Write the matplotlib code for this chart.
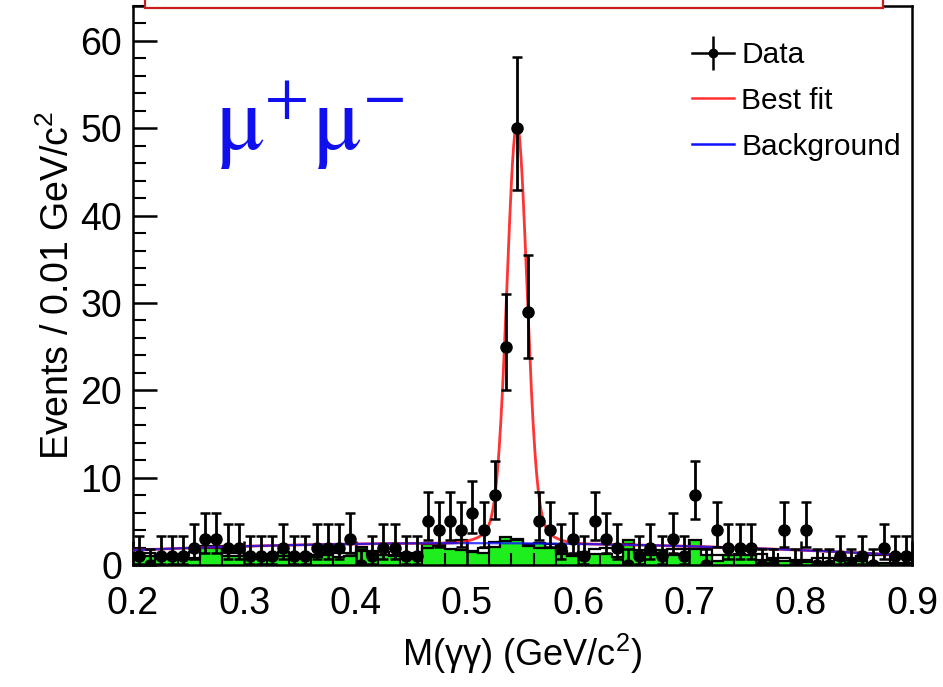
"""
eta -> gamma gamma peak in the mu+mu- channel: data, fit and background MC.
"""

import numpy as np
import matplotlib.pyplot as plt
from matplotlib.lines import Line2D
from matplotlib.patches import Rectangle

plt.rcParams.update({
    "font.family": ["Liberation Sans", "DejaVu Sans"],
    "mathtext.fontset": "custom",
    "mathtext.rm": "Liberation Sans",
    "mathtext.it": "Liberation Sans:italic",
    "axes.linewidth": 1.8,
})

# binning: 0.2 - 0.9 GeV/c^2, 0.01 wide
edges = np.round(np.arange(0.20, 0.9001, 0.01), 3)
centers = edges[:-1] + 0.005

# data counts per bin
counts = [1, 0, 1, 1, 1, 2, 3, 3, 2, 2,
          1, 1, 1, 2, 1, 1, 2, 2, 2, 3,
          0, 1, 2, 2, 1, 1, 5, 4, 5, 4,
          6, 4, 8, 25, 50, 29, 5, 4, 2, 3,
          1, 5, 3, 2, 0, 1, 2, 1, 3, 1,
          8, 0, 4, 2, 2, 2, 0, 0, 4, 0,
          4, 0, 0, 1, 0, 1, 0, 2, 1, 1]

# 68% Poisson intervals (low, high) for the counts present
poisson_err = {0: (0.0, 1.84), 1: (0.83, 2.30), 2: (1.29, 2.64),
               3: (1.63, 2.92), 4: (1.91, 3.16), 5: (2.16, 3.38),
               6: (2.38, 3.58), 8: (2.77, 3.94), 25: (4.96, 6.07),
               29: (5.35, 6.45), 50: (7.04, 8.12)}

# green filled MC histogram
mc_green = [1.4, 1.0, 0.7, 0.7, 0.7, 0.8, 2.2, 2.2, 1.0, 1.0,
            1.2, 1.2, 1.2, 1.5, 0.9, 0.9, 0.9, 1.1, 0.9, 1.0,
            2.1, 1.2, 1.2, 1.2, 1.2, 1.2, 2.4, 2.4, 1.8, 1.7,
            1.5, 1.4, 2.1, 3.2, 3.0, 2.2, 2.5, 2.0, 1.3, 1.3,
            1.5, 1.3, 1.3, 0.9, 2.9, 1.7, 1.1, 1.7, 1.1, 1.3,
            2.9, 1.1, 0.5, 1.1, 1.1, 1.1, 0.6, 0.6, 0.5, 0.5,
            0.3, 0.3, 0.3, 0.6, 0.6, 0.5, 0.2, 0.2, 0.2, 0.2]

# open (outline only) MC histogram
mc_open = [1.0, 1.4, 1.0, 1.0, 1.2, 1.5, 2.0, 2.0, 1.4, 1.4,
           1.0, 1.0, 1.0, 1.0, 1.3, 1.3, 1.2, 1.4, 1.4, 1.4,
           1.6, 1.6, 1.5, 1.0, 1.4, 1.4, 2.0, 2.2, 2.5, 2.9,
           1.6, 2.0, 2.6, 2.8, 2.9, 2.4, 2.0, 2.4, 1.6, 1.0,
           1.0, 1.8, 2.0, 2.0, 2.4, 1.4, 1.4, 1.4, 1.8, 1.8,
           1.8, 2.0, 1.2, 1.2, 1.3, 1.2, 1.3, 0.8, 0.8, 0.6,
           0.6, 0.8, 0.8, 0.8, 0.8, 1.0, 1.2, 1.2, 1.2, 1.2]

# fit parameters: quadratic background + double gaussian peak
bkg_top, bkg_x0, bkg_curv = 2.5, 0.50, -8.9
peak_mean = 0.545
peak_amp1, peak_sig1 = 45.0, 0.0088
peak_amp2, peak_sig2 = 3.0, 0.020

x_ticks = [0.2, 0.3, 0.4, 0.5, 0.6, 0.7, 0.8, 0.9]
y_ticks = [0, 10, 20, 30, 40, 50, 60]


def background(x):
    return bkg_top + bkg_curv * (x - bkg_x0) ** 2


def best_fit(x):
    g1 = peak_amp1 * np.exp(-0.5 * ((x - peak_mean) / peak_sig1) ** 2)
    g2 = peak_amp2 * np.exp(-0.5 * ((x - peak_mean) / peak_sig2) ** 2)
    return background(x) + g1 + g2


fig = plt.figure(figsize=(9.43, 6.87), dpi=100)
ax = fig.add_axes([133 / 943, 1 - 565 / 687, 779 / 943, 559 / 687])

ax.stairs(mc_green, edges, fill=True, color="#1eee1e", zorder=1)
ax.stairs(mc_green, edges, color="black", lw=1.6, zorder=2)
ax.stairs(mc_open, edges, color="black", lw=1.6, zorder=2)

xf = np.linspace(0.2, 0.9, 1401)
ax.plot(xf, best_fit(xf), color="#ff1010", lw=2.0, alpha=0.85, zorder=3)
ax.plot(xf, background(xf), color="#1010ff", lw=1.6, alpha=0.8, zorder=4)

lo = [poisson_err[n][0] for n in counts]
hi = [poisson_err[n][1] for n in counts]
ax.errorbar(centers, counts, yerr=[lo, hi], fmt="o", color="black",
            ms=8, elinewidth=2.0, capsize=3.8, capthick=1.8, zorder=5)

ax.set_xlim(0.2, 0.9)
ax.set_ylim(0, 64)
ax.set_xticks(x_ticks)
ax.set_xticklabels([f"{t:.1f}" for t in x_ticks])
ax.set_yticks(y_ticks)
ax.set_xticks(np.arange(0.2, 0.9001, 0.02), minor=True)
ax.set_yticks(np.arange(0, 64.01, 2), minor=True)
ax.tick_params(axis="both", which="both", direction="in", labelsize=27,
               top=False, right=False)
ax.tick_params(which="major", length=17, width=1.8)
ax.tick_params(which="minor", length=9, width=1.5)
ax.tick_params(axis="x", pad=15)
ax.tick_params(axis="y", pad=8)

ax.set_xlabel("M(γγ) (GeV/c$^{2}$)", fontsize=26, labelpad=7)
ax.set_ylabel("Events / 0.01 GeV/c$^{2}$", fontsize=27, labelpad=2)

fig.text(215 / 943, 1 - 150 / 687, r"$\mathrm{μ}^{+}\mathrm{μ}^{-}$",
         color="#1010ee", fontsize=66, math_fontfamily="stix",
         va="baseline", ha="left")

h_data = (Line2D([], [], color="black", lw=1.8, marker="o", ms=6),
          Line2D([], [], color="black", lw=0, marker="|", ms=24, mew=1.8))
h_fit = Line2D([], [], color="#ff3030", lw=1.8)
h_bkg = Line2D([], [], color="#1010ff", lw=1.8)
ax.legend([h_data, h_fit, h_bkg], ["Data", "Best fit", "Background"],
          loc="upper left", bbox_to_anchor=(692 / 943, 1 - 41 / 687),
          bbox_transform=fig.transFigure, frameon=False, fontsize=21.5,
          handlelength=1.4, handletextpad=0.25, labelspacing=0.6,
          borderpad=0, borderaxespad=0)

# red box cut off at the top edge
fig.add_artist(Rectangle((145 / 943, 1 - 8 / 687), 738 / 943, 20 / 687,
                         transform=fig.transFigure, facecolor="white",
                         edgecolor="#c81e1e", lw=1.6, clip_on=False, zorder=10))

fig.savefig("out.png", dpi=100)
